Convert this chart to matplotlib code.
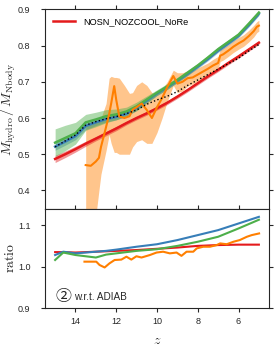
import matplotlib
matplotlib.use("Agg")
import matplotlib.pyplot as plt
import numpy as np

plt.rcParams["font.family"] = ["Liberation Sans", "DejaVu Sans"]
plt.rcParams["mathtext.fontset"] = "cm"

# ---------------------------------------------------------------------------
# Data
# ---------------------------------------------------------------------------
z = [15.0, 14.5, 14.0, 13.5, 13.0, 12.5, 12.0, 11.5, 11.0, 10.5, 10.0,
     9.5, 9.0, 8.5, 8.0, 7.5, 7.0, 6.5, 6.0, 5.5, 5.0]

red = [0.487, 0.500, 0.514, 0.529, 0.543, 0.557, 0.571, 0.586, 0.600, 0.613,
       0.627, 0.642, 0.659, 0.677, 0.696, 0.715, 0.733, 0.752, 0.770, 0.789, 0.808]
red_err = [0.010, 0.009, 0.008, 0.007, 0.006, 0.006, 0.006, 0.005, 0.005, 0.005,
           0.005, 0.005, 0.005, 0.005, 0.005, 0.005, 0.005, 0.005, 0.005, 0.005, 0.005]

blue = [0.521, 0.535, 0.550, 0.578, 0.588, 0.597, 0.603, 0.612, 0.628, 0.648,
        0.668, 0.685, 0.703, 0.722, 0.742, 0.763, 0.786, 0.806, 0.827, 0.856, 0.888]
blue_err = [0.010, 0.010, 0.010, 0.010, 0.009, 0.008, 0.008, 0.007, 0.007, 0.006,
            0.006, 0.006, 0.005, 0.005, 0.005, 0.005, 0.005, 0.005, 0.005, 0.005, 0.005]

green = [0.532, 0.545, 0.558, 0.588, 0.596, 0.605, 0.610, 0.618, 0.632, 0.651,
         0.670, 0.687, 0.705, 0.725, 0.745, 0.767, 0.790, 0.810, 0.830, 0.860, 0.891]
green_err = [0.038, 0.035, 0.030, 0.022, 0.020, 0.018, 0.015, 0.012, 0.012, 0.010,
             0.008, 0.008, 0.007, 0.007, 0.006, 0.006, 0.006, 0.006, 0.006, 0.006, 0.006]

dotted = [0.520, 0.537, 0.553, 0.580, 0.590, 0.598, 0.604, 0.612, 0.622, 0.638,
          0.650, 0.660, 0.673, 0.690, 0.705, 0.720, 0.735, 0.750, 0.765, 0.785, 0.803]

z_or = [13.5, 13.25, 13.0, 12.85, 12.75, 12.5, 12.35, 12.25, 12.1, 12.0, 11.85,
        11.6, 11.35, 11.2, 11.0, 10.75, 10.5, 10.25, 10.0, 9.75, 9.5, 9.2, 9.0,
        8.75, 8.5, 8.25, 8.0, 7.75, 7.5, 7.25, 7.0, 6.9, 6.75, 6.5, 6.25, 6.0,
        5.75, 5.5, 5.25, 5.1, 5.0]
orange = [0.470, 0.468, 0.480, 0.490, 0.520, 0.575, 0.610, 0.640, 0.688, 0.650, 0.604,
          0.600, 0.605, 0.623, 0.630, 0.640, 0.622, 0.600, 0.630, 0.655, 0.685, 0.716, 0.695,
          0.700, 0.710, 0.712, 0.720, 0.728, 0.736, 0.745, 0.752, 0.772, 0.776, 0.786, 0.797,
          0.806, 0.814, 0.826, 0.840, 0.852, 0.855]
orange_hi = [0.580, 0.585, 0.590, 0.595, 0.600, 0.640, 0.710, 0.715, 0.712, 0.712, 0.710,
             0.690, 0.668, 0.670, 0.690, 0.700, 0.690, 0.670, 0.670, 0.680, 0.700, 0.732, 0.725,
             0.725, 0.730, 0.730, 0.738, 0.745, 0.752, 0.762, 0.770, 0.788, 0.793, 0.802, 0.813,
             0.822, 0.830, 0.842, 0.856, 0.866, 0.870]
orange_lo = [0.300, 0.300, 0.330, 0.400, 0.445, 0.510, 0.554, 0.530, 0.505, 0.505, 0.500,
             0.500, 0.500, 0.520, 0.535, 0.540, 0.530, 0.530, 0.560, 0.600, 0.645, 0.690, 0.670,
             0.675, 0.688, 0.694, 0.702, 0.711, 0.720, 0.728, 0.735, 0.756, 0.760, 0.770, 0.781,
             0.790, 0.798, 0.810, 0.824, 0.836, 0.840]

# ratio panel
z_r = [15.0, 14.6, 14.0, 13.0, 12.5, 12.0, 11.0, 10.0, 9.0, 8.0, 7.0, 6.0, 5.0]
ratio_red = [1.035, 1.035, 1.034, 1.036, 1.037, 1.038, 1.040, 1.043, 1.046, 1.050, 1.052, 1.053, 1.053]
ratio_blue = [1.028, 1.036, 1.032, 1.036, 1.038, 1.041, 1.048, 1.054, 1.064, 1.076, 1.088, 1.104, 1.120]
ratio_green = [1.016, 1.034, 1.028, 1.022, 1.029, 1.032, 1.038, 1.042, 1.050, 1.060, 1.072, 1.092, 1.113]

z_r_or = [13.56, 12.98, 12.82, 12.57, 12.33, 12.08, 11.75, 11.5, 11.26, 11.01, 10.76,
          10.35, 10.02, 9.7, 9.37, 9.04, 8.8, 8.55, 8.22, 8.05, 7.73, 7.4, 7.07, 6.9,
          6.58, 6.25, 5.94, 5.59, 5.35, 4.99]
ratio_orange = [1.012, 1.012, 1.004, 0.998, 1.008, 1.016, 1.017, 1.024, 1.017, 1.025, 1.022,
                1.028, 1.034, 1.036, 1.032, 1.034, 1.026, 1.036, 1.036, 1.044, 1.048, 1.048,
                1.052, 1.056, 1.054, 1.060, 1.064, 1.072, 1.076, 1.080]

c_red, c_blue, c_green, c_orange = "#e41a1c", "#377eb8", "#4daf4a", "#ff7f00"
txt = "#262626"

# ---------------------------------------------------------------------------
# Figure
# ---------------------------------------------------------------------------
fig = plt.figure(figsize=(2.74, 3.47), dpi=100)
gs = fig.add_gridspec(2, 1, left=0.164, right=0.982, top=0.973, bottom=0.112,
                      height_ratios=[2, 1], hspace=0)
ax = fig.add_subplot(gs[0])
axr = fig.add_subplot(gs[1], sharex=ax)

z, z_or = np.array(z), np.array(z_or)

ax.fill_between(z_or, orange_lo, orange_hi, color=c_orange, alpha=0.45, lw=0, zorder=1)
for y, e, c in [(red, red_err, c_red), (blue, blue_err, c_blue), (green, green_err, c_green)]:
    y, e = np.array(y), np.array(e)
    ax.fill_between(z, y - e, y + e, color=c, alpha=0.45, lw=0, zorder=2)
ax.plot(z, red, color=c_red, lw=1.8, zorder=3, label="NOSN_NOZCOOL_NoRe")
ax.plot(z, blue, color=c_blue, lw=1.8, zorder=3)
ax.plot(z, green, color=c_green, lw=1.8, zorder=3)
ax.plot(z_or, orange, color=c_orange, lw=1.5, zorder=4)
ax.plot(z, dotted, color="black", ls=":", lw=1.0, zorder=5)

axr.plot(z_r, ratio_red, color=c_red, lw=1.5)
axr.plot(z_r, ratio_blue, color=c_blue, lw=1.5)
axr.plot(z_r, ratio_green, color=c_green, lw=1.5)
axr.plot(z_r_or, ratio_orange, color=c_orange, lw=1.5)

# Axes
ax.set_xlim(15.5, 4.5)
ax.set_ylim(0.35, 0.9)
ax.set_yticks([0.4, 0.5, 0.6, 0.7, 0.8, 0.9])
axr.set_ylim(0.9, 1.14)
axr.set_yticks([0.9, 1.0, 1.1])
axr.set_xticks([14, 12, 10, 8, 6])

for a in (ax, axr):
    a.tick_params(direction="out", length=3, width=0.8, colors=txt,
                  labelsize=6.5, left=True, right=True, top=True)
    a.tick_params(axis="y", pad=7.5)
    a.tick_params(axis="x", pad=3.5)
    for s in a.spines.values():
        s.set_linewidth(0.8)
        s.set_color(txt)
ax.tick_params(bottom=False, labelbottom=False)

ax.set_ylabel(r"$M_{\rm hydro}\,/\,M_{\rm Nbody}$", fontsize=10, color=txt)
ax.yaxis.set_label_coords(-0.119, 0.5)
axr.set_ylabel(r"$\rm ratio$", fontsize=10, color=txt)
axr.yaxis.set_label_coords(-0.126, 0.5)
axr.set_xlabel(r"$z$", fontsize=10, color=txt)
axr.xaxis.set_label_coords(0.499, -0.248)

ax.legend(loc="center left", bbox_to_anchor=(0.036, 0.936), frameon=False,
          fontsize=6.7, handlelength=2.4, handletextpad=0.85, borderpad=0,
          borderaxespad=0)

axr.text(0.082, 0.12, "\u2461", transform=axr.transAxes, fontsize=11.5,
         ha="center", va="center", color=txt,
         family=["Noto Sans CJK JP", "DejaVu Sans"])
axr.text(0.13, 0.11, "w.r.t. ADIAB", transform=axr.transAxes, fontsize=7.2,
         ha="left", va="center", color=txt)

fig.savefig("out.png", dpi=100)
